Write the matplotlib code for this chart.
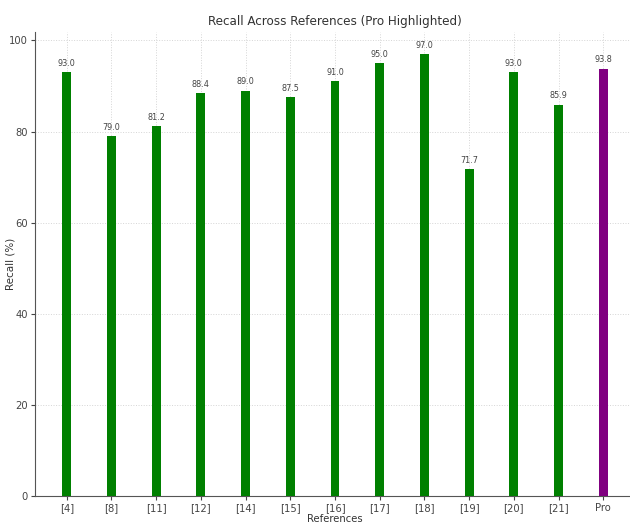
import matplotlib
matplotlib.use("Agg")
import matplotlib.pyplot as plt
import numpy as np

refs = ["[4]", "[8]", "[11]", "[12]", "[14]", "[15]", "[16]", "[17]", "[18]", "[19]", "[20]", "[21]", "Pro"]
recall = [93.0, 79.0, 81.2, 88.4, 89.0, 87.5, 91.0, 95.0, 97.0, 71.7, 93.0, 85.9, 93.8]
colors = ["green"] * 12 + ["purple"]

plt.rcParams['font.family'] = ['DejaVu Sans']
plt.rcParams['font.stretch'] = 'condensed'

fig = plt.figure(figsize=(6.3, 5.23), dpi=100)
ax = fig.add_axes([35 / 630, 1 - 496 / 523, 600 / 630, 464 / 523])

x = np.arange(len(refs))
bars = ax.bar(x, recall, width=0.2, color=colors, zorder=3)
for b, v in zip(bars, recall):
    ax.text(b.get_x() + b.get_width() / 2, v + 1.0, f"{v:.1f}",
            ha="center", va="bottom", fontsize=6.5, color="#444444")

ax.set_xticks(x)
ax.set_xticklabels(refs)
ax.set_xlim(-0.71, 12.71)
ax.set_ylim(0, 101.85)
ax.set_yticks([0, 20, 40, 60, 80, 100])
ax.tick_params(colors="#444444", labelsize=8, length=3, pad=2)
ax.grid(True, linestyle=":", color="#d5d5d5", linewidth=0.7, zorder=0)
for s in ["top", "right"]:
    ax.spines[s].set_visible(False)
for s in ["left", "bottom"]:
    ax.spines[s].set_color("#555555")

ax.set_title("Recall Across References (Pro Highlighted)", fontsize=9.5, color="#333333", pad=5)
ax.set_xlabel("References", fontsize=8, color="#333333", labelpad=1)
ax.set_ylabel("Recall (%)", fontsize=7.5, color="#333333", stretch="normal")
ax.yaxis.set_label_coords(-0.033, 0.5)

fig.savefig("out.png", dpi=100)
